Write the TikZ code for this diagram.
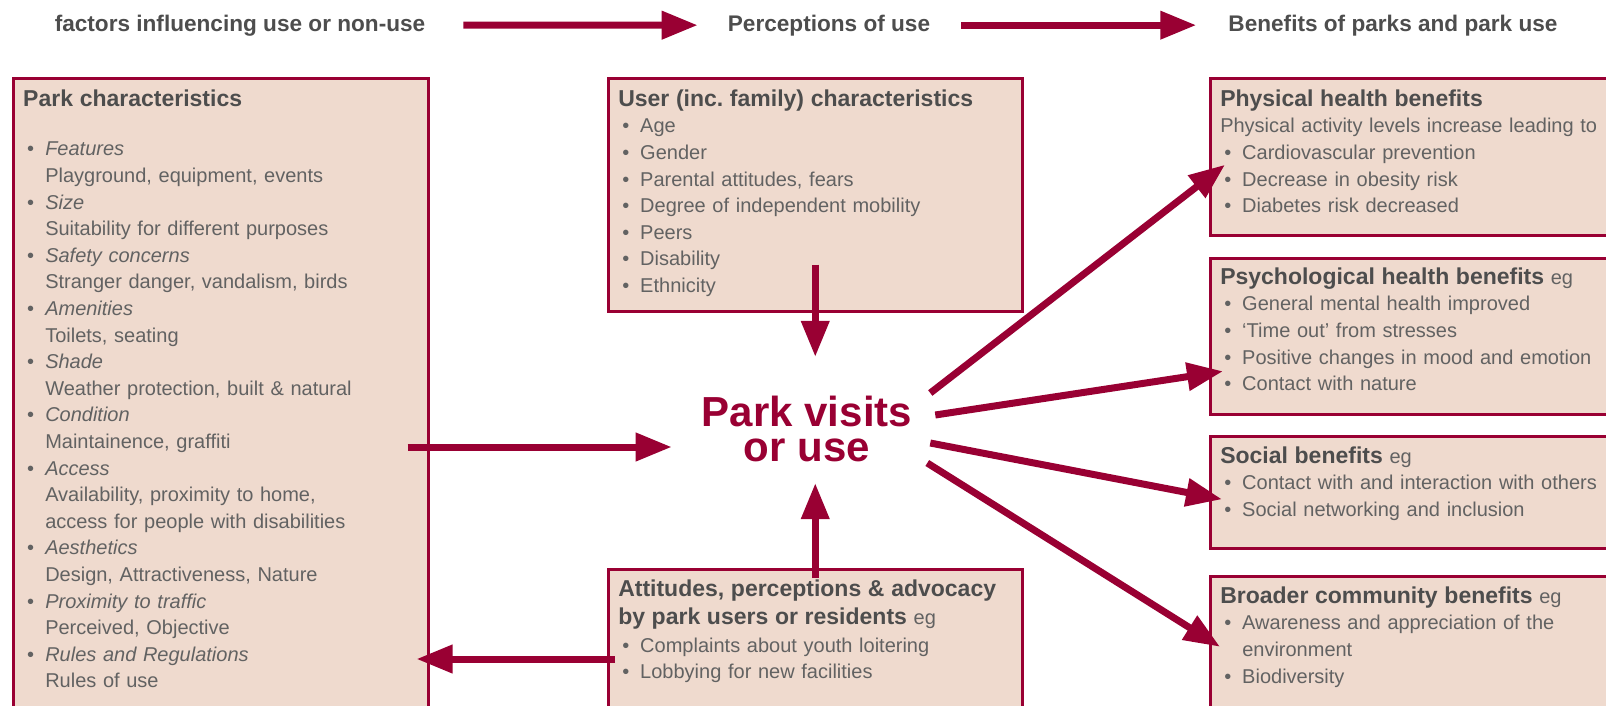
\documentclass[tikz,border=0pt]{standalone}
\usepackage{fontspec}
\setmainfont{Liberation Sans}
\usetikzlibrary{arrows.meta}

\definecolor{parkred}{RGB}{153,0,51}
\definecolor{boxfill}{RGB}{239,218,206}
\definecolor{titlegray}{RGB}{77,77,77}
\definecolor{bodygray}{RGB}{98,98,98}

\newcommand{\bodyfont}{\fontsize{20}{26.6}\selectfont}
\newcommand{\boxtitle}[1]{{\fontsize{23}{26.6}\selectfont\bfseries\color{titlegray}#1}}
\newcommand{\itembul}{\makebox[22pt][l]{\hspace{4pt}\textbullet}}
\newcommand{\subline}{\hspace*{22pt}}

\tikzset{
  infobox/.style={draw=parkred, line width=2.5pt, fill=boxfill, anchor=north west,
    inner xsep=10pt, inner ysep=0pt, align=left, text height=28pt,
    font=\bodyfont, text=bodygray},
  heading/.style={anchor=base, inner sep=0pt, text=titlegray,
    font=\fontsize{22.6}{27}\selectfont\bfseries},
  arr/.style={draw=parkred, line width=7pt, -{Triangle[length=36pt,width=27pt]}}
}

\begin{document}
\begin{tikzpicture}[x=1pt,y=-1pt]
            \useasboundingbox (0,0) rectangle (1606,705);
            \clip (0,0) rectangle (1606,705);
            \fill[white] (0,0) rectangle (1606,705);

            % stages along the top
            \node[heading] (facts) at (240,31) {factors influencing use or non-use};
            \node[heading] (perc) at (829,31) {Perceptions of use};
            \node[heading] (bene) at (1393,31) {Benefits of parks and park use};
            \draw[arr, shorten <=38pt, shorten >=30pt] (facts) -- (perc);
            \draw[arr, shorten <=31pt, shorten >=32pt] (perc) -- (bene);

            % what leads to use
            \node[infobox, text width=395pt, text depth=612pt] (chars) at (12,77) {%
              \boxtitle{Park characteristics}\\[23pt]
              \itembul\textit{Features}\\
              \subline Playground, equipment, events\\
              \itembul\textit{Size}\\
              \subline Suitability for different purposes\\
              \itembul\textit{Safety concerns}\\
              \subline Stranger danger, vandalism, birds\\
              \itembul\textit{Amenities}\\
              \subline Toilets, seating\\
              \itembul\textit{Shade}\\
              \subline Weather protection, built \& natural\\
              \itembul\textit{Condition}\\
              \subline Maintainence, graffiti\\
              \itembul\textit{Access}\\
              \subline Availability, proximity to home,\\
              \subline access for people with disabilities\\
              \itembul\textit{Aesthetics}\\
              \subline Design, Attractiveness, Nature\\
              \itembul\textit{Proximity to traffic}\\
              \subline Perceived, Objective\\
              \itembul\textit{Rules and Regulations}\\
              \subline Rules of use};
            \node[infobox, text width=394pt, text depth=205pt] (user) at (607,77) {%
              \boxtitle{User (inc.\ family) characteristics}\\
              \itembul Age\\
              \itembul Gender\\
              \itembul Parental attitudes, fears\\
              \itembul Degree of independent mobility\\
              \itembul Peers\\
              \itembul Disability\\
              \itembul Ethnicity};
            \node[infobox, text width=394pt, text height=27pt, text depth=123pt] (att) at (607,568) {%
              \boxtitle{Attitudes, perceptions \& advocacy}\\[1.4pt]
              \boxtitle{by park users or residents} eg\\[1.4pt]
              \itembul Complaints about youth loitering\\
              \itembul Lobbying for new facilities};

            % centre
            \node[text=parkred, align=center, inner sep=0pt,
              font=\fontsize{42}{35}\selectfont\bfseries] (visit) at (807,429) {Park visits\\or use};

            % benefits
            \node[infobox, text width=397pt, text depth=129pt] (phys) at (1209,77) {%
              \boxtitle{Physical health benefits}\\
              Physical activity levels increase leading to\\
              \itembul Cardiovascular prevention\\
              \itembul Decrease in obesity risk\\
              \itembul Diabetes risk decreased};
            \node[infobox, text width=397pt, text height=26pt, text depth=130pt] (psych) at (1209,257) {%
              \boxtitle{Psychological health benefits} eg\\
              \itembul General mental health improved\\
              \itembul ‘Time out’ from stresses\\
              \itembul Positive changes in mood and emotion\\
              \itembul Contact with nature};
            \node[infobox, text width=397pt, text height=27pt, text depth=85pt] (soc) at (1209,435) {%
              \boxtitle{Social benefits} eg\\
              \itembul Contact with and interaction with others\\
              \itembul Social networking and inclusion};
            \node[infobox, text width=397pt, text height=27pt, text depth=118pt] (comm) at (1209,575) {%
              \boxtitle{Broader community benefits} eg\\
              \itembul Awareness and appreciation of the\\
              \subline environment\\
              \itembul Biodiversity};

            % arrows into and out of park use
            \draw[arr] ([xshift=-22pt,yshift=-370pt]chars.north east) -- ([xshift=-30pt,yshift=-18pt]visit.west);
            \draw[arr, shorten <=-48pt, shorten >=39pt] (user.south) -- (user.south |- visit.north);
            \draw[arr, shorten <=-10pt, shorten >=21pt] (att.north) -- (att.north |- visit.south);
            \draw[arr] ([xshift=8pt,yshift=-91pt]att.north west) -- ([xshift=-13pt,yshift=-582pt]chars.north east);
            \draw[arr] ([xshift=18pt,yshift=36pt]visit.east) -- ([xshift=16pt,yshift=-8pt]phys.west);
            \draw[arr] ([xshift=23pt,yshift=14pt]visit.east) -- ([xshift=14pt,yshift=-35pt]psych.west);
            \draw[arr] ([xshift=18pt,yshift=-14pt]visit.east) -- ([xshift=13pt,yshift=-7pt]soc.west);
            \draw[arr] ([xshift=15pt,yshift=-34pt]visit.east) -- ([xshift=11pt,yshift=2pt]comm.west);
        \end{tikzpicture}
\end{document}
